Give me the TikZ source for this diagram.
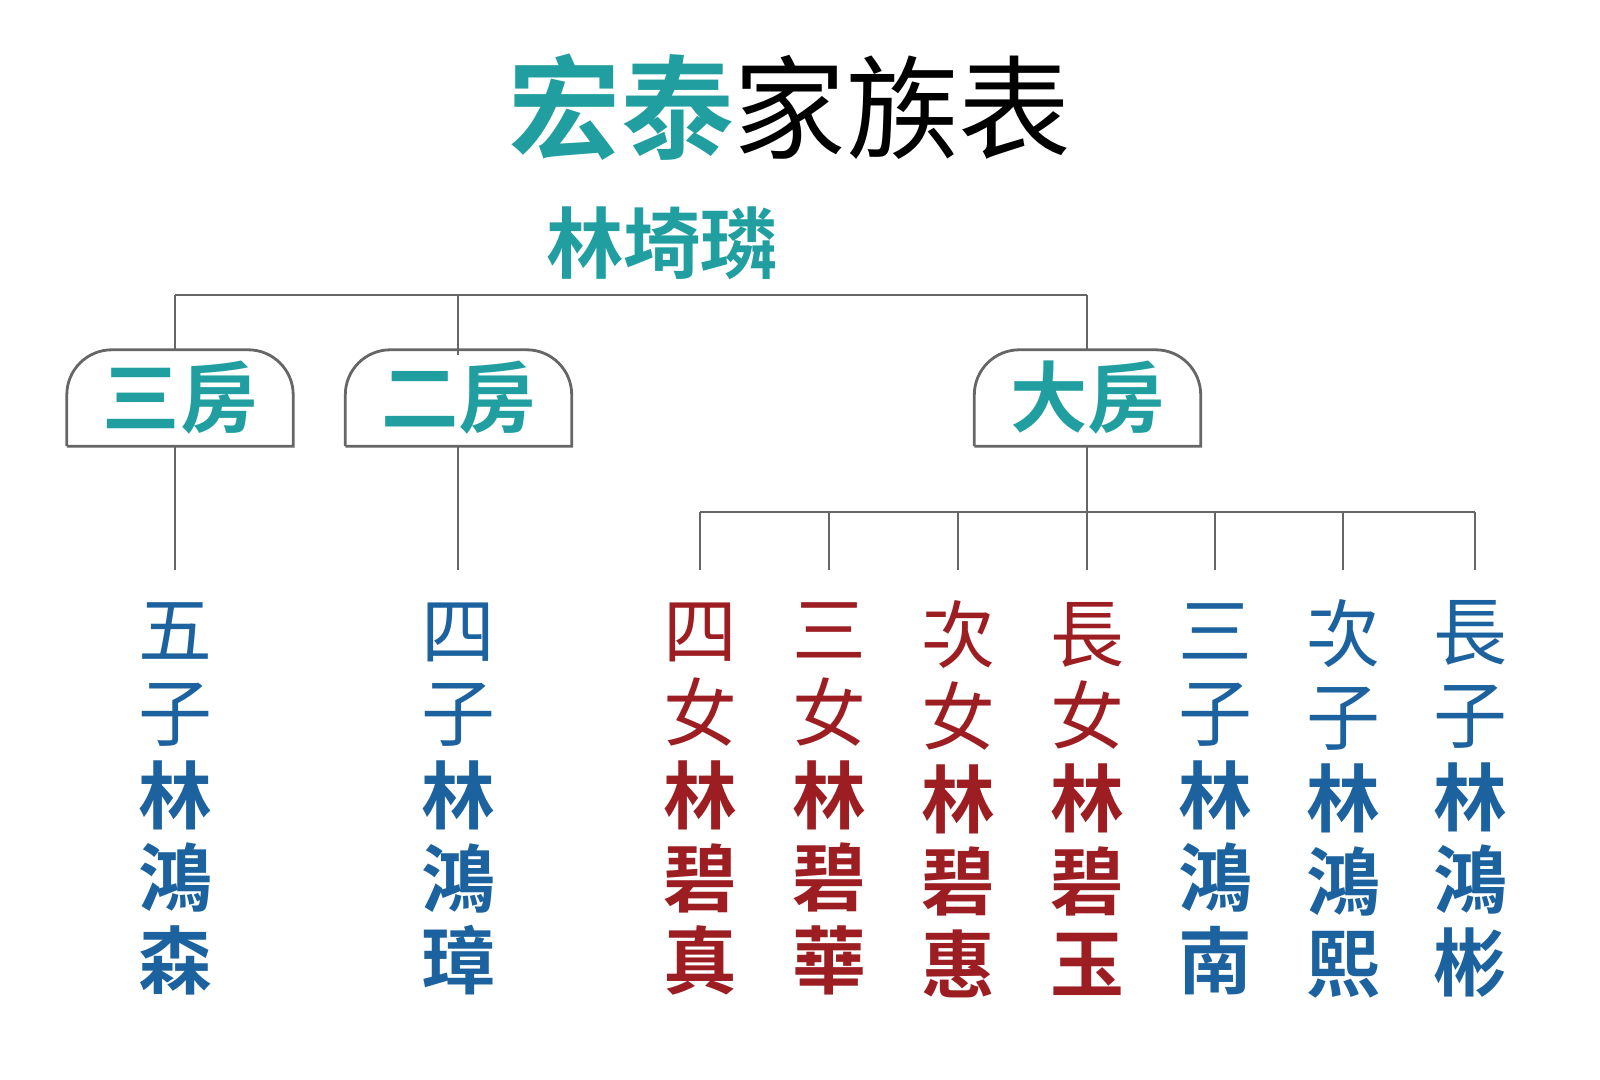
\documentclass[tikz,border=0pt]{standalone}
\usepackage{fontspec}
\newfontfamily\cjk{Noto Sans CJK TC}[BoldFont={Noto Sans CJK TC Bold}]
\usepackage{tikz}
\usetikzlibrary{positioning,calc}
\definecolor{myteal}{RGB}{32,158,160}
\definecolor{myblue}{RGB}{28,98,158}
\definecolor{myred}{RGB}{156,30,34}
\tikzset{
  house/.style={font=\cjk\bfseries\fontsize{22}{24}\selectfont,text=myteal,
    minimum width=2.25cm,minimum height=0.95cm,inner sep=0pt},
  kid/.style={font=\cjk\fontsize{21}{23.5}\selectfont,align=center,inner sep=0pt},
  link/.style={draw=black!60,line width=0.8pt}
}
\newcommand{\boxline}[1]{%
  \draw[link] (#1.south west) -- (#1.south east) [rounded corners=0.45cm] -- (#1.north east) -- (#1.north west) -- (#1.south west);}
\begin{document}
\begin{tikzpicture}
\useasboundingbox (0,0) rectangle (16,10.79);
% title
\node (title) at (7.9,9.72) {\cjk\fontsize{32}{34}\selectfont
  \textcolor{myteal}{\bfseries 宏泰}家族表};
\node[font=\cjk\bfseries\fontsize{22}{24}\selectfont,text=myteal] (root) at (6.62,8.36) {林埼璘};
% houses
\node[house] (h3) at (1.80,6.81) {三房};
\node[house] (h2) at (4.585,6.81) {二房};
\node[house] (h1) at (10.875,6.81) {大房};
\boxline{h3}\boxline{h2}\boxline{h1}
\coordinate (top3) at (1.75,7.84);
\coordinate (top1) at (10.87,7.84);
\draw[link] (top3) -- (top1);
\draw[link] (top3) -- (top3 |- h3.north);
\draw[link] (4.58,7.84) -- (4.58,7.24);
\draw[link] (top1) -- (top1 |- h1.north);
% children
\foreach \x/\nm/\c/\a/\b/\d/\e/\f in {
  1.75/k1/myblue/五/子/林/鴻/森,
  4.58/k2/myblue/四/子/林/鴻/璋,
  7.00/k3/myred/四/女/林/碧/真,
  8.29/k4/myred/三/女/林/碧/華,
  9.58/k5/myred/次/女/林/碧/惠,
  10.87/k6/myred/長/女/林/碧/玉,
  12.15/k7/myblue/三/子/林/鴻/南,
  13.43/k8/myblue/次/子/林/鴻/熙,
  14.70/k9/myblue/長/子/林/鴻/彬}
  \node[kid,text=\c] (\nm) at (\x,2.80) {\a\\\b\\\textbf{\d}\\\textbf{\e}\\\textbf{\f}};
\coordinate (bar) at (10.87,5.67);
\draw[link] (7.00,5.67) -- (14.75,5.67);
\draw[link] (h1.south -| bar) -- (bar);
\draw[link] (h3.south -| top3) -- (1.75,5.09);
\draw[link] (4.58,6.335) -- (4.58,5.09);
\foreach \x in {7.00,8.29,9.58,10.87,12.15,13.43,14.75}
  \draw[link] (\x,5.67) -- (\x,5.09);
\end{tikzpicture}
\end{document}
